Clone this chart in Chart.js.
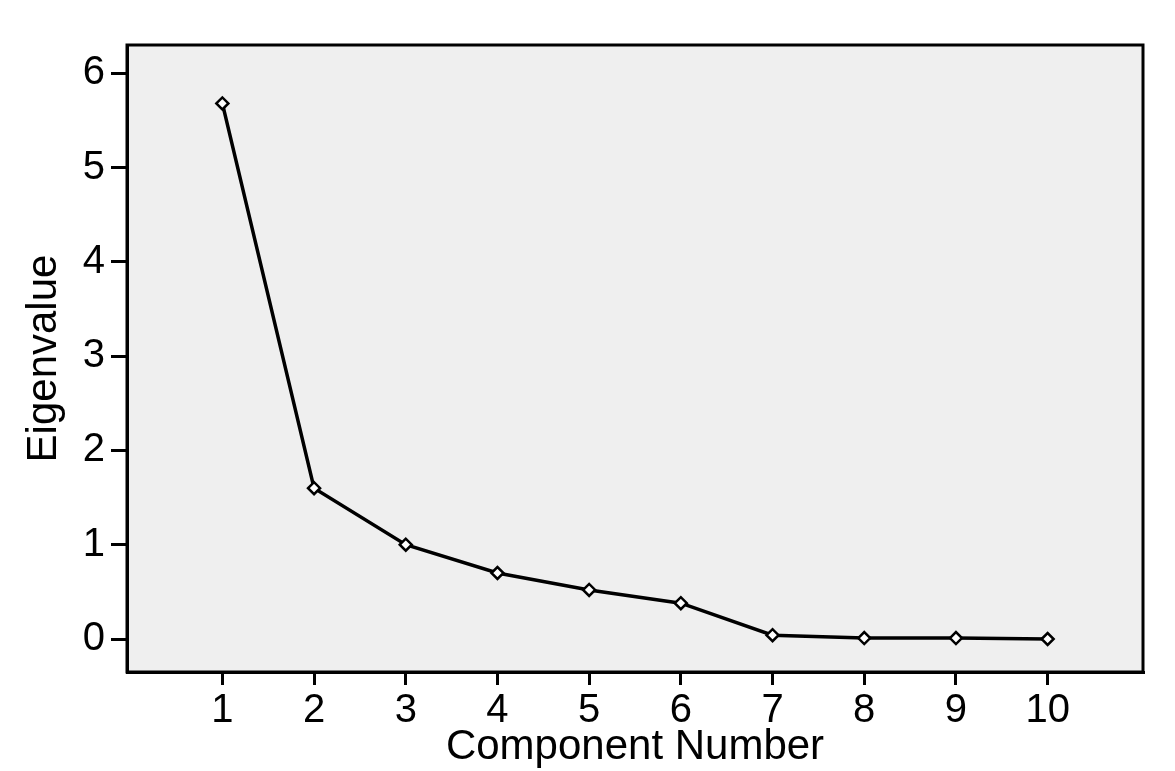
<!DOCTYPE html>
<html>
<head>
<meta charset="utf-8">
<script src="https://cdn.jsdelivr.net/npm/chart.js@4"></script>
<style>
	html, body { margin: 0; padding: 0; background: #ffffff; }
	#wrap { width: 1175px; height: 771px; }
</style>
</head>
<body>
<div id="wrap"><canvas id="scree" width="1175" height="771"></canvas></div>
<script>
// scree plot values
const components  = [1, 2, 3, 4, 5, 6, 7, 8, 9, 10];
const eigenvalues = [5.68, 1.60, 1.00, 0.70, 0.52, 0.38, 0.04, 0.01, 0.01, 0.00];
const yTicks = [0, 1, 2, 3, 4, 5, 6];
const xTicks = components;

const frame = {
	id: 'frame',
	beforeDraw (chart) {
		const { ctx, chartArea: a } = chart;
		ctx.save();
		ctx.fillStyle = '#efefef';
		ctx.fillRect(a.left, a.top, a.right - a.left, a.bottom - a.top);
		ctx.restore();
	},
	afterDraw (chart) {
		const { ctx, chartArea: a } = chart;
		ctx.save();
		ctx.strokeStyle = '#000';
		ctx.lineWidth = 3;
		ctx.strokeRect(a.left, a.top, a.right - a.left, a.bottom - a.top);
		ctx.restore();
	}
};

const font = 'Liberation Sans, Arial, Helvetica, sans-serif';

new Chart(document.getElementById('scree'), {
	type: 'line',
	data: {
		datasets: [{
			data: components.map((c, i) => ({ x: c, y: eigenvalues[i] })),
			borderColor: '#000',
			borderWidth: 3.5,
			tension: 0,
			pointStyle: 'rectRot',
			pointRadius: 6,
			pointBackgroundColor: '#fff',
			pointBorderColor: '#000',
			pointBorderWidth: 2.5
		}]
	},
	options: {
		responsive: false,
		animation: false,
		layout: { padding: { top: 45, right: 32, left: 0, bottom: 0 } },
		plugins: { legend: { display: false }, tooltip: { enabled: false } },
		scales: {
			x: {
				type: 'linear',
				min: -0.04,
				max: 11.04,
				afterBuildTicks: scale => { scale.ticks = xTicks.map(v => ({ value: v })); },
				afterFit: scale => { scale.height = 99; },
				grid: { drawOnChartArea: false, drawTicks: true, tickLength: 13, color: '#000', lineWidth: 3 },
				border: { display: true, color: '#000', width: 3 },
				ticks: { color: '#000', padding: 2, maxRotation: 0, font: { family: font, size: 40 } },
				title: { display: true, text: 'Component Number', color: '#000', padding: { top: -10, bottom: -2 }, font: { family: font, size: 42 } }
			},
			y: {
				type: 'linear',
				min: -0.35,
				max: 6.3,
				afterBuildTicks: scale => { scale.ticks = yTicks.map(v => ({ value: v })); },
				afterFit: scale => { scale.width = 127; },
				grid: { drawOnChartArea: false, drawTicks: true, tickLength: 16, color: '#000', lineWidth: 3 },
				border: { display: true, color: '#000', width: 3 },
				ticks: { color: '#000', padding: 6, font: { family: font, size: 40 } },
				title: { display: true, text: 'Eigenvalue', color: '#000', padding: { top: 19, bottom: 0 }, font: { family: font, size: 42 } }
			}
		}
	},
	plugins: [frame]
});
</script>
</body>
</html>
